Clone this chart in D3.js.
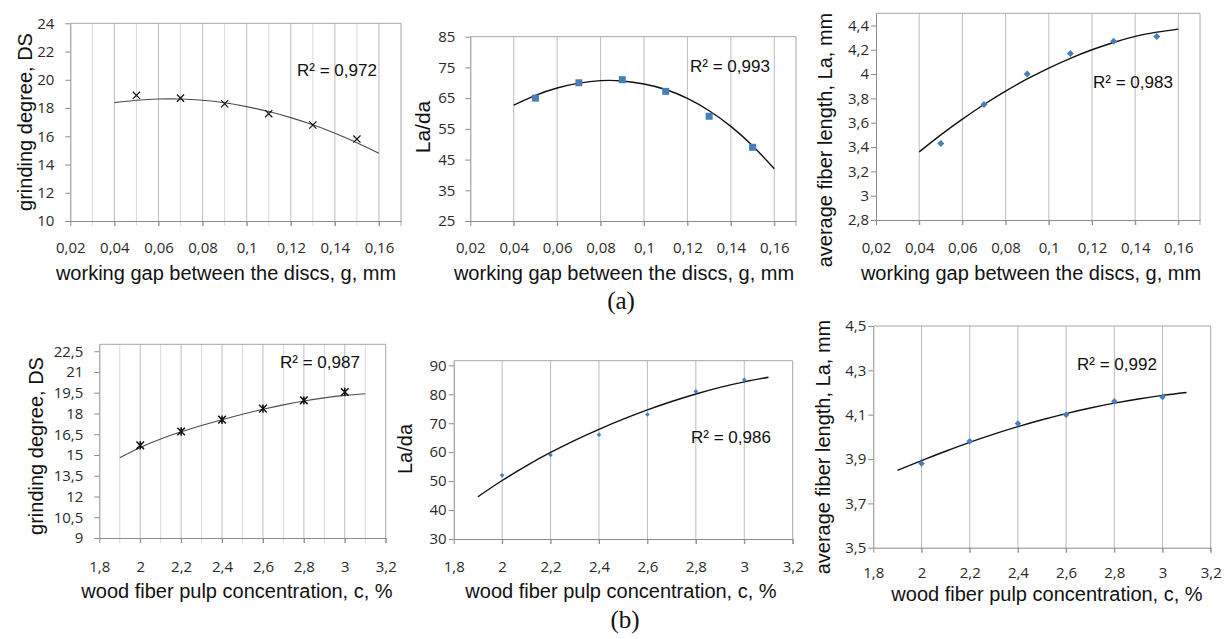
<!DOCTYPE html>
<html><head><meta charset="utf-8">
<script src="https://cdn.jsdelivr.net/npm/d3@7"></script>
<style>body{margin:0;background:#fff}svg{display:block}</style>
</head><body><svg id="c" width="1232" height="639"></svg>
<script>
// ---------- data ----------
const gapX = [0.05, 0.07, 0.09, 0.11, 0.13, 0.15];
const gapTrendX = [0.04, 0.05, 0.06, 0.07, 0.08, 0.09, 0.10, 0.11, 0.12, 0.13, 0.14, 0.15, 0.16];
const concX = [2.0, 2.2, 2.4, 2.6, 2.8, 3.0];
const concTrendX = [1.9, 2.0, 2.1, 2.2, 2.3, 2.4, 2.5, 2.6, 2.7, 2.8, 2.9, 3.0, 3.1];

const grindGap = [18.9, 18.7, 18.3, 17.6, 16.8, 15.8];
const grindGapTrend = [18.38, 18.55, 18.64, 18.64, 18.55, 18.37, 18.10, 17.75, 17.32, 16.81, 16.22, 15.55, 14.8];
const ladaGap = [65, 70, 71, 67.2, 59.1, 49];
const ladaGapTrend = [62.7, 65.9, 68.3, 69.9, 70.7, 70.6, 69.6, 67.8, 64.9, 60.9, 55.8, 49.5, 42.0];
const lenGap = [3.43, 3.75, 4.0, 4.17, 4.27, 4.31];
const lenGapTrend = [3.36, 3.50, 3.63, 3.75, 3.86, 3.96, 4.05, 4.13, 4.20, 4.26, 4.31, 4.345, 4.37];

const grindConc = [15.7, 16.7, 17.55, 18.35, 18.95, 19.55];
const grindConcTrend = [14.8, 15.55, 16.16, 16.68, 17.13, 17.55, 17.94, 18.3, 18.62, 18.9, 19.13, 19.31, 19.43];
const ladaConc = [52, 59, 66, 73, 81, 85];
const ladaConcTrend = [44.6, 50.2, 55.3, 59.9, 64.1, 67.9, 71.4, 74.6, 77.5, 80.1, 82.4, 84.3, 85.9];
const lenConc = [3.88, 3.98, 4.06, 4.10, 4.16, 4.18];
const lenConcTrend = [3.849, 3.893, 3.935, 3.975, 4.012, 4.046, 4.077, 4.105, 4.13, 4.152, 4.171, 4.187, 4.2];

const gapTicks = [0.02, 0.04, 0.06, 0.08, 0.1, 0.12, 0.14, 0.16];
const gapGridMajor = [0.04, 0.06, 0.08, 0.1, 0.12, 0.14, 0.16];
const gapGridMinor = [0.03, 0.05, 0.07, 0.09, 0.11, 0.13, 0.15];
const concTicks = [1.8, 2.0, 2.2, 2.4, 2.6, 2.8, 3.0, 3.2];
const concGridMajor = [2.0, 2.2, 2.4, 2.6, 2.8, 3.0];
const concGridMinor = [1.9, 2.1, 2.3, 2.5, 2.7, 2.9, 3.1];

const yTicksGrindGap = [10, 12, 14, 16, 18, 20, 22, 24];
const yTicksLadaGap = [25, 35, 45, 55, 65, 75, 85];
const yTicksLenGap = [2.8, 3.0, 3.2, 3.4, 3.6, 3.8, 4.0, 4.2, 4.4];
const yTicksGrindConc = [9, 10.5, 12, 13.5, 15, 16.5, 18, 19.5, 21, 22.5];
const yTicksLadaConc = [30, 40, 50, 60, 70, 80, 90];
const yTicksLenConc = [3.5, 3.7, 3.9, 4.1, 4.3, 4.5];

const r2Labels = ["R² = 0,972", "R² = 0,993", "R² = 0,983", "R² = 0,987", "R² = 0,986", "R² = 0,992"];
const xTitles = ["working gap between the discs, g, mm", "wood fiber pulp concentration, c, %"];
const yTitles = ["grinding degree, DS", "La/da", "average fiber length, La, mm"];
const groupLabels = ["(a)", "(b)"];

// ---------- drawing ----------
const svg = d3.select("#c");
const fmt = v => String(+v.toFixed(3)).replace(".", ",");
const BLUE = "#4a7ebb";

function panel(p) {
  const x = d3.scaleLinear().domain(p.xd).range([p.l, p.r]);
  const y = d3.scaleLinear().domain(p.yd).range([p.b, p.t]);
  const g = svg.append("g");
  g.selectAll(".gmin").data(p.gridMinor || []).join("line")
    .attr("x1", d => x(d)).attr("x2", d => x(d)).attr("y1", p.t).attr("y2", p.b + 5)
    .attr("stroke", "#dadada").attr("stroke-width", 1);
  g.selectAll(".gmaj").data(p.gridMajor).join("line")
    .attr("x1", d => x(d)).attr("x2", d => x(d)).attr("y1", p.t).attr("y2", p.b + 5)
    .attr("stroke", "#bcbcbc").attr("stroke-width", 1);
  g.append("path").attr("d", `M${p.l},${p.t}H${p.r}V${p.b + 5}`)
    .attr("fill", "none").attr("stroke", "#a6a6a6");
  const ax = g.append("g").attr("transform", `translate(0,${p.b})`)
    .call(d3.axisBottom(x).tickValues(p.xt).tickFormat(fmt).tickSize(5).tickPadding(p.xpad).tickSizeOuter(0));
  const ay = g.append("g").attr("transform", `translate(${p.l},0)`)
    .call(d3.axisLeft(y).tickValues(p.yt).tickFormat(fmt).tickSize(5).tickPadding(p.ypad).tickSizeOuter(0));
  [ax, ay].forEach(a => {
    a.select(".domain").attr("stroke", "#8c8c8c");
    a.selectAll(".tick line").attr("stroke", "#8c8c8c");
    a.selectAll("text").attr("fill", "#2a2a2a").style("font-family", "'Open Sans', sans-serif").style("font-size", "15px");
  });
  const line = d3.line().x((d, i) => x(p.tx[i])).y(d => y(d)).curve(d3.curveNatural);
  g.append("path").datum(p.ty).attr("d", line).attr("fill", "none")
    .attr("stroke", p.lineColor).attr("stroke-width", p.lineWidth);
  const pts = p.py.map((v, i) => [x(p.px[i]), y(v)]);
  if (p.marker === "x" || p.marker === "star") {
    const s = p.ms;
    g.selectAll(".mk").data(pts).join("path")
      .attr("d", d => `M${d[0] - s},${d[1] - s}L${d[0] + s},${d[1] + s}M${d[0] - s},${d[1] + s}L${d[0] + s},${d[1] - s}` +
        (p.marker === "star" ? `M${d[0]},${d[1] - s * 1.1}V${d[1] + s * 1.1}` : ""))
      .attr("stroke", "#111").attr("stroke-width", p.marker === "star" ? 1.5 : 1.2).attr("fill", "none");
  } else if (p.marker === "square") {
    g.selectAll(".mk").data(pts).join("rect")
      .attr("x", d => d[0] - p.ms).attr("y", d => d[1] - p.ms)
      .attr("width", p.ms * 2).attr("height", p.ms * 2).attr("fill", BLUE);
  } else {
    g.selectAll(".mk").data(pts).join("path")
      .attr("d", d => `M${d[0]},${d[1] - p.ms}L${d[0] + p.ms},${d[1]}L${d[0]},${d[1] + p.ms}L${d[0] - p.ms},${d[1]}Z`)
      .attr("fill", BLUE);
  }
  g.append("text").attr("x", p.r2[0]).attr("y", p.r2[1]).text(p.r2t)
    .style("font-family", "'Liberation Sans', Arial, sans-serif").style("font-size", "17px").attr("fill", "#111");
  g.append("text").attr("x", p.xtl[0]).attr("y", p.xtl[1]).attr("text-anchor", "middle").text(p.xtitle)
    .style("font-family", "'Liberation Sans', Arial, sans-serif").style("font-size", "20px").attr("fill", "#111");
  g.append("text").attr("transform", `translate(${p.ytl[0]},${p.ytl[1]}) rotate(-90)`).attr("text-anchor", "middle").text(p.ytitle)
    .style("font-family", "'Liberation Sans', Arial, sans-serif").style("font-size", p.yfs || "20px").attr("fill", "#111");
}

const panels = [
  {l: 70.3, r: 401, t: 23.3, b: 221, xd: [0.02, 0.17], yd: [10, 24], xt: gapTicks, yt: yTicksGrindGap,
   gridMajor: gapGridMajor, gridMinor: gapGridMinor, xpad: 16, ypad: 11,
   tx: gapTrendX, ty: grindGapTrend, px: gapX, py: grindGap, marker: "x", ms: 3.6, lineColor: "#4d4d4d", lineWidth: 1.1,
   r2: [297, 76], r2t: r2Labels[0], xtl: [226, 280], xtitle: xTitles[0], ytl: [32, 122], ytitle: yTitles[0]},
  {l: 470.3, r: 796, t: 36.7, b: 221, xd: [0.02, 0.17], yd: [25, 85], xt: gapTicks, yt: yTicksLadaGap,
   gridMajor: gapGridMajor, xpad: 16, ypad: 10,
   tx: gapTrendX, ty: ladaGapTrend, px: gapX, py: ladaGap, marker: "square", ms: 3.5, lineColor: "#111", lineWidth: 1.4,
   r2: [690, 72], r2t: r2Labels[1], xtl: [624, 280], xtitle: xTitles[0], ytl: [430, 127], ytitle: yTitles[1], yfs: "21px"},
  {l: 876, r: 1200, t: 13.3, b: 220, xd: [0.02, 0.17], yd: [2.8, 4.5], xt: gapTicks, yt: yTicksLenGap,
   gridMajor: gapGridMajor, xpad: 17, ypad: 2,
   tx: gapTrendX, ty: lenGapTrend, px: gapX, py: lenGap, marker: "diamond", ms: 3.5, lineColor: "#111", lineWidth: 1.4,
   r2: [1093, 88], r2t: r2Labels[2], xtl: [1031, 280], xtitle: xTitles[0], ytl: [832, 140], ytitle: yTitles[2]},
  {l: 99.3, r: 385.7, t: 344.3, b: 538, xd: [1.8, 3.2], yd: [9, 23], xt: concTicks, yt: yTicksGrindConc,
   gridMajor: concGridMajor, gridMinor: concGridMinor, xpad: 18, ypad: 11,
   tx: concTrendX, ty: grindConcTrend, px: concX, py: grindConc, marker: "star", ms: 3.8, lineColor: "#4d4d4d", lineWidth: 1.1,
   r2: [280, 368], r2t: r2Labels[3], xtl: [237, 598], xtitle: xTitles[1], ytl: [43, 446], ytitle: yTitles[0]},
  {l: 453.7, r: 792.7, t: 360.7, b: 539, xd: [1.8, 3.2], yd: [30, 91.6], xt: concTicks, yt: yTicksLadaConc,
   gridMajor: concGridMajor, xpad: 17, ypad: 2,
   tx: concTrendX, ty: ladaConcTrend, px: concX, py: ladaConc, marker: "diamond", ms: 2.3, lineColor: "#111", lineWidth: 1.4,
   r2: [691, 443], r2t: r2Labels[4], xtl: [621, 598], xtitle: xTitles[1], ytl: [412, 449], ytitle: yTitles[1]},
  {l: 873.3, r: 1210.7, t: 326, b: 547.7, xd: [1.8, 3.2], yd: [3.5, 4.5], xt: concTicks, yt: yTicksLenConc,
   gridMajor: concGridMajor, xpad: 15, ypad: 2,
   tx: concTrendX, ty: lenConcTrend, px: concX, py: lenConc, marker: "diamond", ms: 3.3, lineColor: "#111", lineWidth: 1.4,
   r2: [1077, 370], r2t: r2Labels[5], xtl: [1047, 601], xtitle: xTitles[1], ytl: [830, 447], ytitle: yTitles[2]}
];
panels.forEach(panel);

svg.append("text").attr("x", 621).attr("y", 309).attr("text-anchor", "middle").text(groupLabels[0])
  .style("font-family", "'Liberation Serif', 'Times New Roman', serif").style("font-size", "25px").attr("fill", "#111");
svg.append("text").attr("x", 625).attr("y", 628).attr("text-anchor", "middle").text(groupLabels[1])
  .style("font-family", "'Liberation Serif', 'Times New Roman', serif").style("font-size", "25px").attr("fill", "#111");
</script>
</body></html>
